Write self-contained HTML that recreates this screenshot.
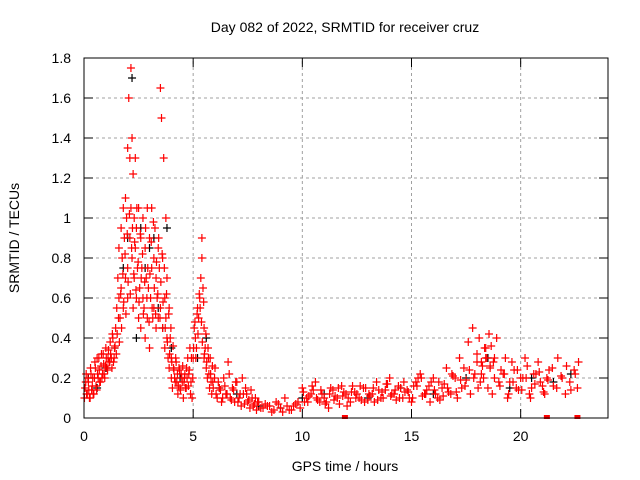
<!DOCTYPE html>
<html><head><meta charset="utf-8"><style>
body{margin:0;background:#fff;}
svg{display:block;font-family:"Liberation Sans",sans-serif;}
</style></head><body>
<svg id="chart" width="640" height="480">
<rect width="640" height="480" fill="#fff"/>
<text x="345" y="32" font-size="14" text-anchor="middle">Day 082 of 2022, SRMTID for receiver cruz</text>
<text x="345" y="471" font-size="14" text-anchor="middle">GPS time / hours</text>
<text transform="translate(19,238) rotate(-90)" font-size="14" text-anchor="middle">SRMTID / TECUs</text>
<g id="grid"></g>
<g id="axes"></g>
<g id="black-series"></g>
<g id="red-series"></g>
<rect x="84" y="58" width="524" height="360" fill="none" stroke="#000"/>
</svg>
<script>
const xTicks=[0,5,10,15,20];
const yTicks=[0,0.2,0.4,0.6,0.8,1,1.2,1.4,1.6,1.8];
const yTickLabels=["0","0.2","0.4","0.6","0.8","1","1.2","1.4","1.6","1.8"];
const redT=[0.05,0.1,0.15,0.2,0.25,0.3,0.35,0.4,0.45,0.5,0.55,0.6,0.65,0.7,0.75,0.8,0.85,0.9,0.95,1.0,1.05,1.1,1.15,1.2,1.25,1.3,1.35,1.4,1.45,1.5,1.55,1.6,1.6,1.65,1.7,1.7,1.75,1.8,1.8,1.85,1.9,1.9,1.95,2.0,2.0,2.0,2.05,2.1,2.1,2.15,2.15,2.2,2.2,2.25,2.25,2.3,2.3,2.35,2.35,2.4,2.4,2.45,2.5,2.5,2.55,2.6,2.6,2.65,2.7,2.7,2.75,2.8,2.8,2.85,2.9,2.9,2.95,3.0,3.0,3.05,3.1,3.1,3.15,3.2,3.2,3.25,3.3,3.3,3.35,3.4,3.4,3.45,3.5,3.5,3.55,3.6,3.6,3.65,3.7,3.7,3.75,3.75,3.8,3.8,3.85,3.9,3.9,3.95,4.0,4.0,4.05,4.1,4.15,4.2,4.25,4.3,4.35,4.4,4.45,4.5,4.55,4.6,4.65,4.7,4.75,4.8,4.85,4.9,4.95,5.0,5.05,5.1,5.15,5.2,5.25,5.3,5.35,5.4,5.4,5.45,5.5,5.5,5.55,5.6,5.65,5.7,5.75,5.8,5.85,5.9,6.0,6.1,6.2,6.3,6.4,6.5,6.6,6.7,6.8,6.9,7.0,7.1,7.2,7.3,7.4,7.5,7.6,7.7,7.8,7.9,8.0,8.2,8.4,8.6,8.8,9.0,9.2,9.4,9.6,9.8,10.0,10.2,10.4,10.6,10.8,11.0,11.2,11.4,11.6,11.8,12.0,12.2,12.4,12.6,12.8,13.0,13.2,13.4,13.6,13.8,14.0,14.2,14.4,14.6,14.8,15.0,15.2,15.4,15.6,15.8,16.0,16.2,16.4,16.6,16.8,17.0,17.2,17.4,17.6,17.8,18.0,18.1,18.2,18.3,18.4,18.5,18.6,18.7,18.8,19.0,19.2,19.4,19.6,19.8,20.0,20.2,20.4,20.6,20.8,21.0,21.2,21.4,21.6,21.8,22.0,22.2,22.4,22.6];
const redV=[0.15,0.22,0.12,0.18,0.1,0.25,0.14,0.2,0.12,0.28,0.16,0.3,0.2,0.24,0.18,0.32,0.22,0.27,0.2,0.35,0.25,0.3,0.28,0.38,0.3,0.42,0.28,0.35,0.45,0.55,0.7,0.6,0.85,0.5,0.95,0.65,0.8,1.05,0.55,0.9,1.1,0.7,1.0,1.35,0.75,0.6,1.6,1.3,0.9,1.75,1.05,1.4,0.8,1.22,0.55,1.0,0.7,1.3,0.85,0.6,0.95,0.75,1.05,0.5,0.65,0.9,0.45,0.75,1.0,0.6,0.55,0.85,0.4,0.7,1.05,0.5,0.65,0.9,0.35,0.6,1.05,0.75,0.5,0.8,0.55,0.95,0.7,0.45,0.6,0.85,0.5,0.75,1.65,0.55,1.5,0.8,0.45,1.3,0.6,0.35,0.5,1.0,0.4,0.7,0.3,0.55,0.25,0.4,0.2,0.3,0.15,0.25,0.2,0.3,0.18,0.12,0.25,0.15,0.22,0.18,0.1,0.2,0.15,0.25,0.3,0.22,0.35,0.18,0.1,0.3,0.45,0.4,0.35,0.55,0.5,0.6,0.7,0.9,0.8,0.65,0.45,0.3,0.35,0.25,0.2,0.3,0.15,0.22,0.12,0.18,0.25,0.1,0.15,0.08,0.2,0.12,0.28,0.1,0.15,0.08,0.18,0.1,0.06,0.12,0.15,0.08,0.05,0.1,0.07,0.04,0.08,0.05,0.06,0.03,0.08,0.05,0.1,0.04,0.06,0.08,0.15,0.1,0.12,0.18,0.08,0.1,0.05,0.14,0.1,0.16,0.12,0.08,0.13,0.1,0.15,0.09,0.12,0.18,0.1,0.14,0.2,0.12,0.16,0.1,0.14,0.08,0.18,0.22,0.12,0.16,0.2,0.1,0.15,0.25,0.12,0.2,0.3,0.25,0.38,0.45,0.32,0.4,0.28,0.2,0.35,0.15,0.25,0.12,0.3,0.18,0.22,0.1,0.28,0.15,0.2,0.3,0.12,0.22,0.28,0.16,0.2];
const red2T=[0.02,0.08,0.12,0.18,0.22,0.28,0.32,0.38,0.42,0.48,0.52,0.58,0.62,0.68,0.72,0.78,0.82,0.88,0.92,0.98,1.02,1.08,1.12,1.18,1.22,1.28,1.32,1.38,1.42,1.48,1.52,1.58,1.62,1.68,1.72,1.78,1.82,1.88,1.92,1.98,2.02,2.08,2.12,2.18,2.22,2.28,2.32,2.38,2.42,2.48,2.52,2.58,2.62,2.68,2.72,2.78,2.82,2.88,2.92,2.98,3.02,3.08,3.12,3.18,3.22,3.28,3.32,3.38,3.42,3.48,3.52,3.58,3.62,3.68,3.72,3.78,3.82,3.88,3.92,3.98,4.02,4.08,4.12,4.18,4.22,4.28,4.32,4.38,4.42,4.48,4.52,4.58,4.62,4.68,4.72,4.78,4.82,4.88,4.92,4.98,5.02,5.08,5.12,5.18,5.22,5.28,5.32,5.38,5.42,5.48,5.52,5.58,5.62,5.68,5.72,5.78,5.82,5.88,5.92,5.98,6.05,6.15,6.25,6.35,6.45,6.55,6.65,6.75,6.85,6.95,7.05,7.15,7.25,7.35,7.45,7.55,7.65,7.75,7.85,7.95,8.1,8.3,8.5,8.7,8.9,9.1,9.3,9.5,9.7,9.9,10.1,10.3,10.5,10.7,10.9,11.1,11.3,11.5,11.7,11.9,12.1,12.3,12.5,12.7,12.9,13.1,13.3,13.5,13.7,13.9,14.1,14.3,14.5,14.7,14.9,15.1,15.3,15.5,15.7,15.9,16.1,16.3,16.5,16.7,16.9,17.1,17.3,17.5,17.7,17.9,18.05,18.15,18.25,18.35,18.45,18.55,18.65,18.75,18.9,19.1,19.3,19.5,19.7,19.9,20.1,20.3,20.5,20.7,20.9,21.1,21.3,21.5,21.7,21.9,22.1,22.3,22.5,22.65];
const red2V=[0.1,0.18,0.12,0.2,0.14,0.1,0.22,0.16,0.12,0.2,0.25,0.14,0.22,0.3,0.18,0.26,0.2,0.32,0.22,0.26,0.3,0.24,0.34,0.28,0.32,0.25,0.4,0.3,0.36,0.32,0.42,0.5,0.38,0.62,0.45,0.72,0.58,0.82,0.52,0.92,0.68,1.02,0.62,0.85,0.95,0.72,0.88,0.64,1.05,0.78,0.58,0.92,0.7,0.82,0.52,0.68,0.95,0.6,0.75,0.48,0.72,0.88,0.55,0.98,0.65,0.52,0.78,0.62,0.9,0.5,0.68,0.82,0.58,0.75,0.45,0.62,0.38,0.52,0.32,0.45,0.28,0.36,0.24,0.18,0.28,0.22,0.16,0.24,0.14,0.2,0.26,0.18,0.22,0.15,0.2,0.16,0.24,0.12,0.3,0.2,0.35,0.48,0.3,0.52,0.42,0.62,0.55,0.48,0.38,0.58,0.32,0.42,0.28,0.35,0.22,0.3,0.18,0.26,0.15,0.2,0.12,0.18,0.14,0.1,0.16,0.12,0.22,0.09,0.14,0.18,0.08,0.12,0.2,0.07,0.12,0.09,0.14,0.06,0.1,0.08,0.05,0.07,0.06,0.04,0.07,0.03,0.06,0.04,0.07,0.05,0.08,0.11,0.14,0.09,0.12,0.08,0.15,0.11,0.07,0.13,0.1,0.16,0.12,0.09,0.15,0.11,0.08,0.14,0.1,0.17,0.12,0.09,0.15,0.13,0.1,0.16,0.2,0.11,0.14,0.18,0.12,0.09,0.17,0.13,0.21,0.1,0.15,0.19,0.12,0.22,0.15,0.18,0.26,0.35,0.3,0.42,0.36,0.28,0.4,0.24,0.3,0.18,0.24,0.14,0.2,0.26,0.15,0.22,0.18,0.12,0.24,0.16,0.3,0.2,0.26,0.14,0.22,0.28,0.18,0.12,0.2];
const red3T=[10.05,10.25,10.45,10.65,10.85,11.05,11.25,11.45,11.65,11.85,12.05,12.25,12.45,12.65,12.85,13.05,13.25,13.45,13.65,13.85,14.05,14.25,14.45,14.65,14.85,15.05,15.25,15.45,15.65,15.85,16.05,16.25,16.45,16.65,16.85,17.05,17.25,17.45,17.65,17.85,18.0,18.2,18.4,18.6,18.8,19.05,19.25,19.45,19.65,19.85,20.05,20.25,20.45,20.65,20.85,21.05,21.25,21.45,21.65,21.85,22.05,22.25,22.45,22.6];
const red3V=[0.13,0.08,0.16,0.1,0.14,0.07,0.12,0.09,0.15,0.11,0.06,0.13,0.1,0.16,0.08,0.12,0.15,0.09,0.13,0.17,0.11,0.14,0.1,0.18,0.13,0.1,0.16,0.2,0.12,0.08,0.14,0.18,0.11,0.15,0.22,0.13,0.19,0.16,0.24,0.2,0.28,0.22,0.3,0.26,0.2,0.16,0.22,0.12,0.18,0.24,0.14,0.2,0.1,0.17,0.23,0.13,0.19,0.25,0.15,0.21,0.12,0.18,0.24,0.15];
const blackT=[0.2,0.6,1.0,1.4,1.8,2.0,2.2,2.4,2.6,2.8,3.0,3.2,3.4,3.6,3.8,4.0,4.4,5.2,5.6,6.2,7.0,8.0,9.0,10.0,11.0,13.0,14.5,16.0,17.5,18.5,19.5,20.5,21.5,22.3];
const blackV=[0.2,0.15,0.25,0.35,0.75,0.9,1.7,0.4,0.95,0.75,0.85,0.9,0.55,0.45,0.95,0.35,0.2,0.3,0.4,0.15,0.12,0.06,0.05,0.1,0.12,0.1,0.15,0.12,0.2,0.3,0.15,0.2,0.18,0.22];
const zeroT=[11.95,21.2,22.6];

const NS="http://www.w3.org/2000/svg";
const X0=84,X1=608,Y0=418,Y1=58;
function xs(t){return X0+(t/24)*(X1-X0);}
function ys(v){return Y0-(v/1.8)*(Y0-Y1);}
const grid=document.getElementById('grid'),axes=document.getElementById('axes');
function mk(tag,attrs,parent){const e=document.createElementNS(NS,tag);for(const k in attrs)e.setAttribute(k,attrs[k]);parent.appendChild(e);return e;}
yTicks.forEach((v,i)=>{
  const y=ys(v);
  if(i>0&&i<yTicks.length-1){const g=mk('line',{x1:X0,x2:X1,y1:y,y2:y,stroke:'#a0a0a0','stroke-dasharray':'3,3'},grid);}
  const t1=mk('line',{x1:X0,x2:X0+9,y1:y,y2:y,stroke:'#000'},axes);
  const t2=mk('line',{x1:X1-9,x2:X1,y1:y,y2:y,stroke:'#000'},axes);
  const l=mk('text',{x:X0-13,y:y+5,'font-size':14,'text-anchor':'end'},axes);l.textContent=yTickLabels[i];
  
});
xTicks.forEach(t=>{
  const x=xs(t);
  if(t>0){const g=mk('line',{x1:x,x2:x,y1:Y0,y2:Y1,stroke:'#a0a0a0','stroke-dasharray':'3,3'},grid);}
  const t1=mk('line',{x1:x,x2:x,y1:Y0,y2:Y0-9,stroke:'#000'},axes);
  const t2=mk('line',{x1:x,x2:x,y1:Y1,y2:Y1+9,stroke:'#000'},axes);
  const l=mk('text',{x:x,y:Y0+23,'font-size':14,'text-anchor':'middle'},axes);l.textContent=String(t);
  
});
function plus(parent,t,v,col){
  const x=xs(t),y=ys(v);
  const p=mk('path',{d:`M${x-4},${y}h8M${x},${y-4}v8`,stroke:col,'stroke-width':1.2,fill:'none'},parent);
  
  
}
const bs=document.getElementById('black-series'),rs=document.getElementById('red-series');
blackT.forEach((t,i)=>plus(bs,t,blackV[i],'#000'));
redT.forEach((t,i)=>plus(rs,t,redV[i],'#f00'));
red2T.forEach((t,i)=>plus(rs,t,red2V[i],'#f00'));
red3T.forEach((t,i)=>plus(rs,t,red3V[i],'#f00'));
zeroT.forEach(t=>{
  const r=mk('rect',{x:xs(t)-3,y:Y0-3,width:6,height:4,fill:'#f00'},rs);
  
  
});
</script>
</body></html>
